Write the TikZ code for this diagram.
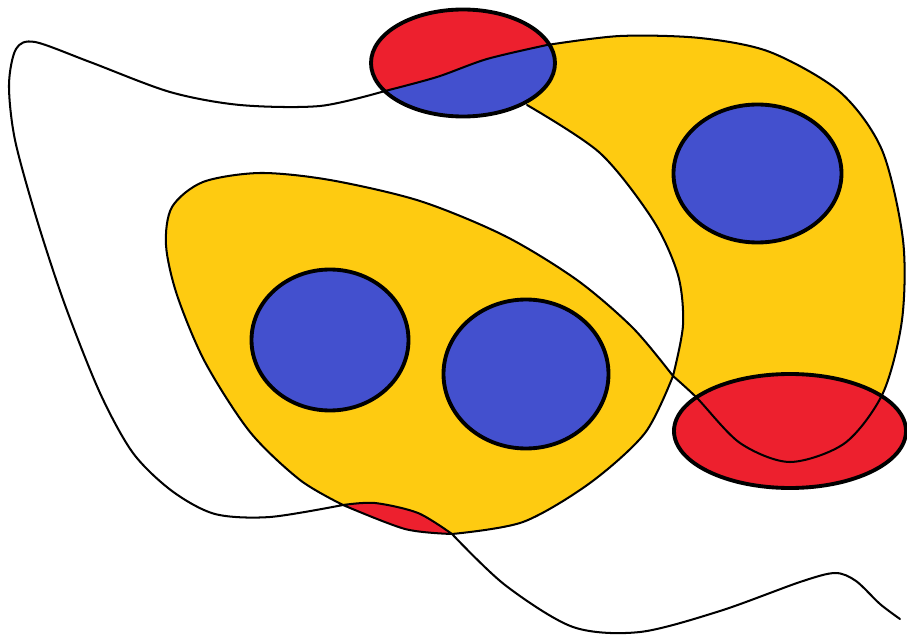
\documentclass[tikz,border=0pt]{standalone}
\usepackage{tikz}
\usetikzlibrary{calc}
\usepackage{xcolor}
\definecolor{pen}{RGB}{0,0,0}
\definecolor{sun}{RGB}{254,203,17}
\definecolor{sea}{RGB}{67,80,206}
\definecolor{rose}{RGB}{237,32,46}
\tikzset{
  curve/.style={draw=pen,line width=1.15pt,line join=round,line cap=round},
  rim/.style={draw=pen,line width=2.2pt},
  blob/.style={rim,fill=sea},
}
% pieces of the one long curve, each starting with --
\newcommand{\segA}{-- plot[smooth] coordinates {(527,105) (600,153) (653,220) (678,275) (683,325) (673,376)}}
\newcommand{\segB}{-- plot[smooth] coordinates {(673,376) (645,433) (590,483) (523,522) (452,534)}}
\newcommand{\segC}{-- plot[smooth] coordinates {(452,534) (405,529) (343,505)}}
\newcommand{\segD}{-- plot[smooth] coordinates {(343,505) (300,480) (250,432) (205,362) (177,295) (166,245) (172,207) (203,182) (260,173) (330,180) (420,201) (505,236) (577,280) (633,328) (673,376)}}
\newcommand{\segE}{-- plot[smooth] coordinates {(673,376) (697,398) (740,443) (790,462) (845,443) (883,393) (902,320) (903,240) (882,150) (840,92) (770,52) (700,38) (620,36) (547,45)}}
\newcommand{\segF}{-- plot[smooth] coordinates {(547,45) (487,59) (437,77) (385,91)}}
\newcommand{\segG}{-- plot[smooth] coordinates {(385,91) (320,106) (240,105) (170,92) (90,62) (35,42) (16,49) (9,85) (15,140) (37,220) (65,305) (100,393) (133,453) (172,491) (215,514) (270,517) (343,505)}}
\newcommand{\segH}{-- plot[smooth] coordinates {(343,505) (375,503) (418,513) (452,534)}}
\newcommand{\segI}{-- plot[smooth] coordinates {(452,534) (505,585) (573,627) (640,632) (720,611) (800,582) (835,573) (856,581) (880,604) (900,619)}}

\begin{document}
\begin{tikzpicture}[x=0.02cm,y=-0.02cm]
  \useasboundingbox (0,0) rectangle (907,635);
  \clip (0,0) rectangle (907,635);
  % yellow regions and the small red lens
  \fill[sun] (673,376) \segB \segC \segD -- cycle;
  \fill[sun] (527,105) \segA \segE -- cycle;
  \fill[rose] (452,534) \segC \segH -- cycle;
  % ellipse fills
  \fill[rose] (790,431) ellipse [x radius=116,y radius=57];
  \begin{scope}
    \clip (463,63) ellipse [x radius=92,y radius=53.5];
    \fill[rose] (360,0) rectangle (570,130);
    \fill[sea] (600,35) \segF -- (345,104) -- (345,130) -- (600,130) -- cycle;
  \end{scope}
  % the curve
  \draw[curve] (527,105) \segA \segB \segC \segD \segE \segF \segG \segH \segI;
  \draw[rim] (463,63) ellipse [x radius=92,y radius=53.5];
  \draw[rim] (790,431) ellipse [x radius=116,y radius=57];
  \foreach \cx/\cy/\rx/\ry in {330/340/78.5/70.5,526/374/82.5/74.5,757.5/173.5/84/69}
    \draw[blob] (\cx,\cy) ellipse [x radius=\rx,y radius=\ry];
\end{tikzpicture}
\end{document}
